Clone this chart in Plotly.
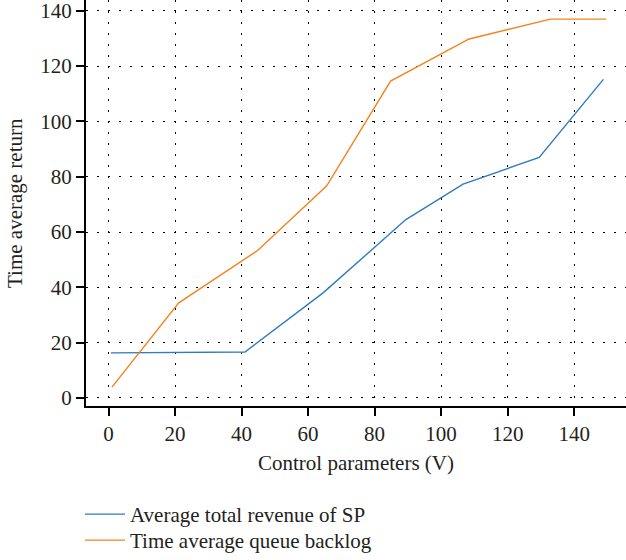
import plotly.graph_objects as go

revenue_x = [0.7, 41, 64.5, 89.4, 106.6, 129.5, 148.8]
revenue_y = [16.3, 16.6, 38.0, 64.5, 77.3, 87.0, 115.2]
backlog_x = [1.0, 21.1, 44.9, 65.6, 84.8, 108.4, 132.9, 149.6]
backlog_y = [3.9, 34.4, 53.4, 76.7, 114.6, 129.8, 137.0, 137.0]
series_names = ["Average total revenue of SP", "Time average queue backlog"]
x_ticks = [0, 20, 40, 60, 80, 100, 120, 140]
y_ticks = [0, 20, 40, 60, 80, 100, 120, 140]
x_title = "Control parameters (V)"
y_title = "Time average return"

FONT = "Liberation Serif"
FS = 21
TXT = "#231f20"
W, H = 626, 560
ML, MB = 86, 154

fig = go.Figure()
fig.add_trace(go.Scatter(x=revenue_x, y=revenue_y, mode="lines", name=series_names[0],
                         line=dict(color="#2f7cc0", width=1.4), legend="legend"))
fig.add_trace(go.Scatter(x=backlog_x, y=backlog_y, mode="lines", name=series_names[1],
                         line=dict(color="#f5821f", width=1.4), legend="legend2"))

axis_common = dict(
    showline=True, linecolor="black", linewidth=2,
    ticks="outside", ticklen=8, tickwidth=1.5, tickcolor="black",
    showgrid=True, gridcolor="black", gridwidth=1, griddash="2px,9px",
    zeroline=False, automargin=True, ticklabeloverflow="allow",
    tickfont=dict(family=FONT, size=FS, color=TXT),
)

legend_common = dict(xanchor="left", xref="container", yanchor="top", yref="container",
                     bgcolor="rgba(0,0,0,0)", font=dict(family=FONT, size=FS, color=TXT),
                     itemwidth=40)

fig.update_layout(
    width=W, height=H,
    margin=dict(l=ML, r=0, t=0, b=MB, autoexpand=False),
    paper_bgcolor="white", plot_bgcolor="white",
    font=dict(family=FONT, size=FS, color=TXT),
    xaxis=dict(range=[-6.8, 155.6], tickvals=x_ticks, mirror=True,
               title=dict(text=x_title, font=dict(family=FONT, size=FS, color=TXT), standoff=10),
               **axis_common),
    yaxis=dict(range=[-2.9, 143.9], tickvals=y_ticks, mirror=False, **axis_common),
    legend=dict(x=80 / W, y=1 - 494 / H, **legend_common),
    legend2=dict(x=80 / W, y=1 - 520 / H, **legend_common),
    showlegend=True,
    annotations=[dict(text=y_title, textangle=-90, xref="paper", yref="paper",
                      x=(15 - ML) / (W - ML), y=0.5, xanchor="center", yanchor="middle",
                      showarrow=False, font=dict(family=FONT, size=FS, color=TXT))],
)

fig.write_html("out.html", config={"displayModeBar": False},
               post_script="document.body.style.margin='0';document.body.style.overflow='hidden';")
